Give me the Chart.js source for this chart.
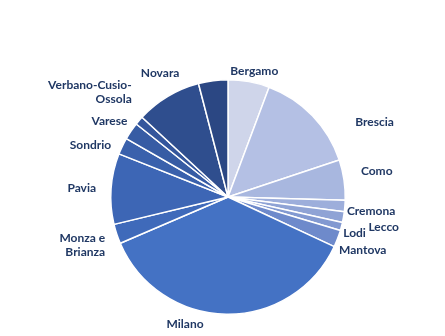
<!DOCTYPE html>
<html>
<head>
<meta charset="utf-8">
<script src="https://cdn.jsdelivr.net/npm/chart.js@4/dist/chart.umd.min.js"></script>
<style>
  html, body { margin: 0; padding: 0; background: #fff; }
  #wrap { width: 445px; height: 336px; position: relative; }
</style>
</head>
<body>
<div id="wrap"><canvas id="chart"></canvas></div>
<script>
// ── Data ──────────────────────────────────────────────────────────────────
const provinces = ['Bergamo', 'Brescia', 'Como', 'Cremona', 'Lecco', 'Lodi', 'Mantova',
  'Milano', 'Monza e Brianza', 'Pavia', 'Sondrio', 'Varese', '', 'Verbano-Cusio-Ossola', 'Novara'];
const shares = [5.7, 14.2, 5.55, 1.55, 1.5, 1.1, 2.35, 36.6, 2.7, 9.75, 2.3, 2.4, 1.2, 9.05, 4.05];
const sliceColors = ['#CFD5EA', '#B4C0E4', '#A8B7DF', '#9DAEDB', '#8FA3D5', '#8299D1', '#6E8ACB',
  '#4472C4', '#3F6ABA', '#3D66B5', '#3A61AC', '#375CA4', '#34569C', '#2F4E8E', '#2B4783'];

// label text lines and nudges (layout only)
const labelLines = [['Bergamo'], ['Brescia'], ['Como'], ['Cremona'], ['Lecco'], ['Lodi'], ['Mantova'],
  ['Milano'], ['Monza e', 'Brianza'], ['Pavia'], ['Sondrio'], ['Varese'], [], ['Verbano-Cusio-', 'Ossola'], ['Novara']];
const labelNudge = [[4, -3], [37, 12], [9, -8], [-6, 4], [17, 9], [-6, 5], [-6, 9],
  [-41, 2], [-4, 9], [-7, 0], [-4, 3], [3, -5], [0, 0], [-32, 3], [-52, 0]];

// ── Outside labels ────────────────────────────────────────────────────────
const outsideLabels = {
  id: 'outsideLabels',
  afterDatasetsDraw(chart) {
    const { ctx } = chart;
    const meta = chart.getDatasetMeta(0);
    ctx.save();
    ctx.font = 'bold 12px Lato';
    ctx.fillStyle = '#203864';
    ctx.textBaseline = 'middle';
    meta.data.forEach((arc, i) => {
      const lines = labelLines[i];
      if (!lines.length) return;
      const mid = (arc.startAngle + arc.endAngle) / 2;
      const r = arc.outerRadius + 8;
      const cs = Math.cos(mid), sn = Math.sin(mid);
      const x = arc.x + r * cs + labelNudge[i][0];
      const y = arc.y + r * sn + labelNudge[i][1];
      ctx.textAlign = Math.abs(cs) < 0.3 ? 'center' : (cs > 0 ? 'left' : 'right');
      const lh = 14;
      const y0 = y - (lines.length - 1) * lh / 2;
      lines.forEach((t, k) => ctx.fillText(t, x, y0 + k * lh));
    });
    ctx.restore();
  },
};

new Chart(document.getElementById('chart'), {
  type: 'pie',
  data: {
    labels: provinces,
    datasets: [{
      data: shares,
      backgroundColor: sliceColors,
      borderColor: '#fff',
      borderWidth: 1.5,
    }],
  },
  options: {
    responsive: true,
    maintainAspectRatio: false,
    animation: false,
    layout: { padding: { left: 110, right: 99, top: 78, bottom: 20 } },
    plugins: {
      legend: { display: false },
      tooltip: { enabled: false },
    },
  },
  plugins: [outsideLabels],
});
</script>
</body>
</html>
